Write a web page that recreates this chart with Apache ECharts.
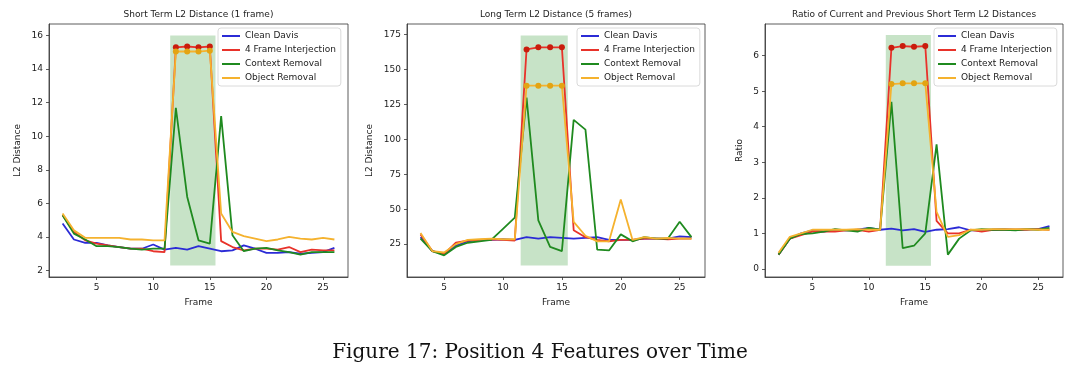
<!DOCTYPE html>
<html><head><meta charset="utf-8">
<script src="https://cdn.jsdelivr.net/npm/echarts@6/dist/echarts.min.js"></script>
<style>html,body{margin:0;padding:0;background:#fff;}#c{width:1080px;height:372px;}</style>
</head><body><div id="c"></div>
<script>
// ---------- data ----------
const seriesNames = ['Clean Davis', '4 Frame Interjection', 'Context Removal', 'Object Removal'];
const panelTitles = ['Short Term L2 Distance (1 frame)', 'Long Term L2 Distance (5 frames)', 'Ratio of Current and Previous Short Term L2 Distances'];
const yAxisNames = ['L2 Distance', 'L2 Distance', 'Ratio'];
const xAxisName = 'Frame';
const caption = 'Figure 17: Position 4 Features over Time';

const framesShort = [2,3,4,5,6,7,8,9,10,11,12,13,14,15,16,17,18,19,20,21,22,23,24,25,26];
const framesLong  = [3,4,5,6,7,8,9,10,11,12,13,14,15,16,17,18,19,20,21,22,23,24,25,26];
const markedFrames = [12,13,14,15];

// Panel 1: short term L2 distance
const p1Clean   = [4.8,3.85,3.65,3.65,3.5,3.4,3.3,3.3,3.55,3.25,3.35,3.25,3.45,3.3,3.15,3.2,3.5,3.3,3.05,3.05,3.1,3.0,3.05,3.1,3.35];
const p1Inject  = [5.3,4.3,3.8,3.6,3.5,3.4,3.3,3.3,3.15,3.1,15.3,15.35,15.3,15.35,3.75,3.4,3.2,3.3,3.3,3.25,3.4,3.1,3.25,3.2,3.2];
const p1Context = [5.3,4.2,3.85,3.45,3.45,3.4,3.3,3.25,3.3,3.3,11.7,6.4,3.8,3.6,11.2,4.1,3.15,3.3,3.35,3.2,3.1,2.95,3.1,3.1,3.1];
const p1Object  = [5.4,4.4,3.95,3.95,3.95,3.95,3.85,3.85,3.8,3.8,15.05,15.05,15.05,15.1,5.4,4.3,4.05,3.9,3.75,3.85,4.0,3.9,3.85,3.95,3.85];

// Panel 2: long term L2 distance
const p2Clean   = [30,20,18,24,27,28,28,28.5,28,30,29,30,29.5,29,29.5,30,28,28,28,29,29,29,30.5,30];
const p2Inject  = [32,20,18,26,27.5,28,28.5,28,27.5,164.5,166,166,166,35,30,28,27,28,28,29,29,28.5,29,29];
const p2Context = [29,20,17,23,26,27,28,36,44,130,42,23,20,114,107,21,20.5,32,27,30,29,29,41,30];
const p2Object  = [33,20,19,25,28,28.5,29,28.5,28.5,138.5,138.5,138.5,138.5,41,31,27,27,57,28,30,29,29.5,29,29];

// Panel 3: ratio
const p3Clean   = [0.4,0.85,1.0,1.08,1.05,1.1,1.08,1.1,1.15,1.1,1.13,1.08,1.12,1.04,1.1,1.12,1.17,1.08,1.08,1.1,1.12,1.1,1.12,1.12,1.2];
const p3Inject  = [0.4,0.85,0.95,1.05,1.05,1.05,1.08,1.1,1.05,1.1,6.22,6.27,6.25,6.27,1.35,1.0,1.0,1.1,1.05,1.1,1.1,1.1,1.1,1.12,1.1];
const p3Context = [0.4,0.85,0.98,1.0,1.05,1.12,1.08,1.05,1.15,1.1,4.7,0.58,0.65,1.0,3.5,0.4,0.85,1.08,1.12,1.1,1.1,1.08,1.12,1.1,1.15];
const p3Object  = [0.45,0.9,1.0,1.1,1.1,1.1,1.1,1.12,1.1,1.1,5.2,5.22,5.22,5.22,1.6,0.9,0.95,1.1,1.1,1.12,1.12,1.12,1.12,1.1,1.1];

// shaded injection window [x0, x1] and its vertical extent per panel
const spanX = [11.5, 15.5];
const spanY = [[2.3, 16.0], [9.7, 174.5], [0.09, 6.58]];

// axis ranges and tick values
const xRanges = [[0.8, 27.2], [1.85, 27.15], [0.8, 27.2]];
const xTicks = [5, 10, 15, 20, 25];
const yRanges = [[1.615, 16.69], [1.46, 182.7], [-0.23, 6.89]];
const yTicks = [[2,4,6,8,10,12,14,16], [25,50,75,100,125,150,175], [0,1,2,3,4,5,6]];

// ---------- styling / layout ----------
const lineColors = ['#2b2bd6', '#e8322a', '#1f8a1f', '#f5b22e'];
const markerColors = {1: '#c91c0c', 3: '#e3a413'};
const gridLeft = [49, 407, 765];
const gridWidth = [299, 298, 298];
const gridTop = 24, gridHeight = 253;
const yNameGap = [27, 33, 21];
const legendLeft = [218, 577, 934];
const FONT = 'DejaVu Sans';

const panels = [
  {x: framesShort, ys: [p1Clean, p1Inject, p1Context, p1Object]},
  {x: framesLong,  ys: [p2Clean, p2Inject, p2Context, p2Object]},
  {x: framesShort, ys: [p3Clean, p3Inject, p3Context, p3Object]}
];

const grid = [], xAxis = [], yAxis = [], series = [], title = [], legend = [];
panels.forEach((p, i) => {
  grid.push({left: gridLeft[i], top: gridTop, width: gridWidth[i], height: gridHeight,
    show: true, borderColor: '#333', borderWidth: 0.8, backgroundColor: 'transparent'});
  title.push({text: panelTitles[i], left: gridLeft[i] + gridWidth[i] / 2, top: 10, textAlign: 'center', padding: 0,
    textStyle: {fontFamily: FONT, fontSize: 9, fontWeight: 'normal', color: '#222'}});
  xAxis.push({type: 'value', gridIndex: i, min: xRanges[i][0], max: xRanges[i][1],
    name: xAxisName, nameLocation: 'middle', nameGap: 21,
    nameTextStyle: {fontFamily: FONT, fontSize: 9, color: '#222'},
    axisLine: {show: true, onZero: false, lineStyle: {color: '#333', width: 0.8}},
    axisTick: {show: true, length: 3, customValues: xTicks, lineStyle: {color: '#333', width: 0.8}},
    axisLabel: {customValues: xTicks, margin: 6, fontFamily: FONT, fontSize: 9, color: '#222'},
    splitLine: {show: false}});
  yAxis.push({type: 'value', gridIndex: i, min: yRanges[i][0], max: yRanges[i][1],
    name: yAxisNames[i], nameLocation: 'middle', nameRotate: 90, nameGap: yNameGap[i],
    nameTextStyle: {fontFamily: FONT, fontSize: 9, color: '#222'},
    axisLine: {show: true, onZero: false, lineStyle: {color: '#333', width: 0.8}},
    axisTick: {show: true, length: 3, customValues: yTicks[i], lineStyle: {color: '#333', width: 0.8}},
    axisLabel: {customValues: yTicks[i], margin: 6, fontFamily: FONT, fontSize: 9, color: '#222'},
    splitLine: {show: false}});
  // shaded window
  series.push({type: 'line', name: 'span' + i, xAxisIndex: i, yAxisIndex: i, data: [], z: 1, silent: true,
    markArea: {silent: true, itemStyle: {color: 'rgba(0,128,0,0.22)'},
      data: [[{xAxis: spanX[0], yAxis: spanY[i][0]}, {xAxis: spanX[1], yAxis: spanY[i][1]}]]}});
  p.ys.forEach((vals, k) => {
    series.push({type: 'line', name: seriesNames[k], xAxisIndex: i, yAxisIndex: i,
      data: p.x.map((f, j) => [f, vals[j]]), showSymbol: false, symbol: 'none',
      color: lineColors[k], lineStyle: {color: lineColors[k], width: 1.8}, z: 3 + k, animation: false});
    if (markerColors[k]) {
      series.push({type: 'scatter', name: 'marker' + k, xAxisIndex: i, yAxisIndex: i,
        data: p.x.map((f, j) => [f, vals[j]]).filter(d => markedFrames.includes(d[0])),
        symbol: 'circle', symbolSize: 6, itemStyle: {color: markerColors[k], opacity: 1}, z: 3 + k, animation: false});
    }
  });
  legend.push({orient: 'vertical', left: legendLeft[i], top: 28, data: seriesNames,
    icon: 'rect', itemWidth: 18, itemHeight: 2, itemGap: 4,
    padding: [3, 5, 3, 4], borderColor: '#d0d0d0', borderWidth: 0.8, borderRadius: 3,
    backgroundColor: 'rgba(255,255,255,0.85)', selectedMode: false,
    textStyle: {fontFamily: FONT, fontSize: 9, color: '#222', lineHeight: 10}});
});

const chart = echarts.init(document.getElementById('c'), null, {renderer: 'canvas'});
chart.setOption({
  animation: false,
  title, legend, grid, xAxis, yAxis, series,
  graphic: [{type: 'text', left: 'center', top: 343,
    style: {text: caption, font: '20px "DejaVu Serif"', fill: '#111'}}]
});
</script></body></html>
